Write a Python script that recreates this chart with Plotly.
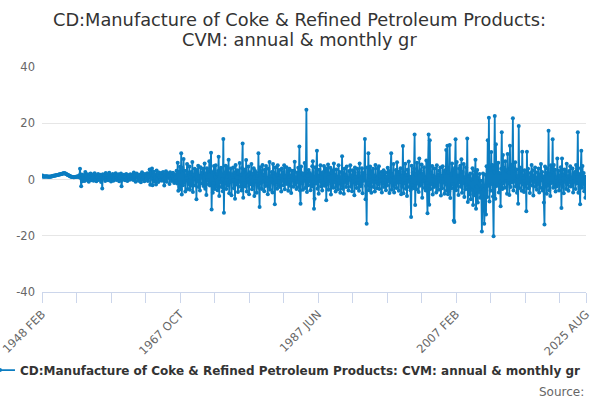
import plotly.graph_objects as go

# monthly growth (%), one row per year, 1948 FEB .. 2025 AUG
rows_early = [
    "1.2 1.4 1.1 1.0 1.1 1.2 1.0 1.1 1.2 1.1 1.0",  # 1948 (from Feb)
    "1.0 1.1 1.0 1.0 1.1 1.1 1.2 1.2 1.3 1.3 1.3 1.4",
    "1.4 1.5 1.5 1.6 1.6 1.7 1.8 1.8 1.9 1.9 2.0 2.0",
    "2.1 2.1 2.2 2.2 2.2 2.1 2.0 1.9 1.8 1.6 1.5 1.4",
    "1.3 1.2 1.1 1.0 1.0 0.9 0.9 0.8 0.8 0.9 0.9 1.0",
    "1.0 1.1 1.0 1.2 0.8 1.5 3.8 0.5 -2.4 1.8 -0.6 1.2",
    "0.2 1.6 -0.5 2.7 0.4 1.3 -0.2 1.9 0.6 -0.8 1.4 0.9",
    "2.1 -0.3 1.2 0.5 1.8 -0.4 0.9 2.2 0.1 1.0 -0.6 1.5",
    "0.8 2.0 -0.2 1.3 0.4 1.7 -0.9 0.6 -3.2 1.9 0.3 1.1",
    "1.6 -0.5 2.3 0.2 1.0 1.8 -0.3 0.7 2.4 0.0 1.2 -0.7",
    "1.4 0.9 2.0 -0.4 1.1 0.3 1.6 2.2 -0.2 0.8 1.5 0.1",
    "1.9 -0.6 0.7 1.3 2.1 -2.4 0.5 1.4 0.0 1.7 0.9 -0.3",
    "1.2 2.0 0.4 -0.5 1.6 0.8 1.1 -0.1 1.9 0.6 1.3 0.2",
    "1.7 -0.2 2.5 0.3 1.0 -0.8 1.4 2.1 0.5 0.9 -0.4 1.6",
    "0.6 1.8 -1.0 1.2 2.6 0.1 0.9 1.5 -0.6 2.0 0.7 1.1",
    "0.4 2.2 -0.5 1.3 0.8 3.6 -1.9 2.4 0.3 3.9 -2.0 1.5",
    "2.8 -0.7 1.9 0.5 -1.8 3.2 0.2 1.6 -0.9 2.5 0.8 -0.3",
    "1.4 2.3 -0.4 1.0 2.7 0.1 -2.1 1.8 0.6 2.9 -0.8 1.2",
    "0.5 2.1 1.3 -1.6 2.6 0.4 1.9 -0.5 1.1 2.4 0.2 -1.2",
    "1.8 0.6 -0.7 3.1 -1.4 6.0 -4.0 2.8 -2.6 4.5 -3.5 9.3",  # 1967
]
rows_late = [
    "-5.3 4.2 -2.0 7.3 -1.0 3.1 -4.3 1.4 0.5 5.5 -3.4 2.5",  # 1968
    "-1.6 4.6 -3.6 0.8 2.7 -2.2 6.2 -4.4 1.7 0.3 3.8 -2.1",
    "2.9 -7.0 3.4 -0.5 4.9 -2.7 1.3 -3.9 4.4 0.7 2.3 -1.4",
    "3.8 -2.3 0.4 5.7 -3.3 2.1 -5.5 4.0 -0.3 2.9 -1.7 6.5",
    "-2.1 3.3 9.5 -10.7 2.6 -4.7 -1.2 4.8 -3.4 0.8 5.1 -2.6",
    "2.0 -3.8 3.0 8.1 -5.9 3.4 -0.9 4.2 -2.7 0.1 -4.2 14.4",
    "-11.8 2.5 -1.3 4.9 -3.4 1.0 4.4 -2.1 7.0 -4.9 2.2 -0.7",
    "3.9 -5.6 1.8 -0.3 4.3 -3.1 2.5 -6.8 5.2 -1.8 0.7 3.3",
    "-4.4 2.2 -0.8 5.9 -2.6 1.6 -3.9 4.0 12.8 -6.5 2.9 -1.2",
    "3.6 -2.5 6.9 -4.3 1.0 0.1 4.6 -5.2 2.6 -1.7 0.8 5.5",
    "-3.5 2.0 -2.2 4.0 -5.9 3.1 -0.5 2.5 -4.7 1.3 -2.0 9.3",
    "-2.9 -9.8 4.4 -1.3 3.0 -3.4 5.2 -0.8 1.7 -4.2 3.5 -2.3",
    "4.8 -1.6 0.5 -5.2 3.8 -2.6 6.2 -3.6 1.2 0.0 2.7 -4.6",
    "5.5 -1.3 2.3 -8.8 4.3 -0.8 1.8 -3.3 5.1 -2.1 0.5 3.4",
    "-2.7 1.4 -4.3 3.9 -0.4 2.6 -2.0 5.1 -3.5 1.0 -0.7 4.4",
    "-1.6 3.0 -4.0 0.9 3.8 -2.2 1.4 -4.8 3.1 -0.3 2.0 -2.6",
    "3.1 6.3 -1.8 0.7 -3.4 2.5 -0.9 4.2 -2.7 11.7 -3.9 -8.6",
    "4.6 -1.2 2.2 -3.6 1.8 -0.4 5.9 -3.0 0.8 24.8 -4.4 1.3",
    "-2.0 3.4 -0.7 2.3 -3.8 1.6 -2.5 4.7 6.5 -1.0 -10.4 -6.8",
    "4.4 -1.4 2.7 10.2 -3.3 1.3 -5.1 3.5 -0.5 5.1 -2.5 2.0",
    "-3.9 2.6 -1.2 4.8 -2.2 0.4 4.0 -7.4 3.0 -1.7 5.3 -3.6",
    "2.1 -0.5 4.2 -5.3 2.5 -2.0 3.3 -2.9 5.7 -0.9 1.6 -4.3",
    "3.6 -2.3 1.0 -3.5 5.1 -1.3 2.7 -4.7 0.7 -2.1 8.3 -3.3",
    "2.3 -5.1 3.8 -0.8 1.7 -2.7 4.6 -1.2 0.3 -3.9 3.0 -0.1",
    "5.1 -2.6 1.3 -4.2 3.3 -0.7 2.2 -5.6 4.3 -1.6 0.9 -3.0",
    "3.8 -1.2 2.6 -4.0 5.7 -2.5 0.5 -1.8 4.0 -4.9 2.3 -0.4",
    "1.8 14.4 -7.0 -2.3 -15.7 4.3 -1.4 9.3 -3.8 1.0 4.6 -2.2",  # 1994
    "-4.7 3.0 -0.8 3.8 -2.7 1.4 -4.3 5.2 -1.0 0.4 -3.1 3.9",
    "-1.7 4.7 -3.4 1.4 -0.3 2.7 -4.6 2.0 -1.3 3.3 -2.7 0.9",
    "2.5 -3.8 1.0 -2.1 4.2 -0.5 3.0 -4.8 1.6 -0.1 9.3 -3.6",
    "1.7 -2.3 5.5 -4.6 0.8 -1.6 3.4 -3.0 6.1 -1.0 2.1 -4.0",
    "2.9 -0.9 4.0 -5.2 1.2 -2.6 11.9 -4.9 2.2 -1.3 5.6 -3.3",
    "1.6 -5.9 3.5 -0.7 6.4 -2.7 1.0 -3.8 -13.3 4.9 -2.0 2.6",
    "-3.1 3.8 16.0 -9.1 1.7 -3.5 6.0 -1.4 2.6 -4.4 7.5 -2.2",
    "3.3 -1.7 5.3 -6.5 2.0 -0.4 4.4 -3.0 0.5 -3.9 6.8 -1.2",
    "-12.0 5.6 16.0 -9.0 14.0 -3.4 2.3 -1.6 4.8 -5.3 1.3 -2.7",
    "3.9 -2.1 0.8 -4.6 5.1 -2.3 1.7 -3.6 3.1 -0.7 4.3 -5.7",
    "1.3 -3.1 4.7 -1.0 2.5 -5.1 3.3 -1.8 10.5 -4.0 12.0 -5.2",
    "2.6 -4.2 12.3 -6.6 1.8 -3.1 5.7 -1.6 3.4 -14.6 -15.1 4.2",
    "14.3 -3.8 6.2 -2.2 1.4 -5.5 3.9 -0.9 4.9 -2.6 7.2 -4.7",
    "2.7 -1.2 5.5 -6.2 0.8 -3.5 4.4 -2.2 14.6 -8.0 -2.7 1.3",
    "-5.2 2.1 -7.0 0.1 -3.6 4.0 -9.1 1.6 -5.6 2.9 7.0 -10.4",
    "-2.6 3.4 -8.2 0.5 -4.4 2.0 -6.5 -0.4 -3.3 -18.5 -6.0 2.1",
    "-3.6 -15.7 -10.8 1.7 -12.4 4.7 -6.2 14.0 -2.2 22.0 -7.8 3.6",
    "-4.0 9.8 -1.6 5.2 -6.0 -20.2 2.6 22.6 -6.8 12.5 -2.3 4.8",
    "-1.8 6.0 -4.6 2.3 -0.8 -9.5 3.8 16.8 -3.4 8.7 -1.3 4.2",
    "-2.9 6.5 -0.5 3.3 -5.1 9.1 -1.4 2.5 -5.5 12.0 -2.7 4.7",
    "-1.0 5.3 21.8 -3.9 3.0 -0.7 6.1 -2.5 3.6 -4.7 1.2 -8.6",
    "19.0 -3.0 4.3 -0.9 2.9 -4.0 9.9 -1.7 0.5 -4.4 3.3 -2.3",
    "2.0 -11.3 9.9 -1.3 3.8 -3.1 0.8 -4.8 2.3 -0.4 5.2 -2.1",
    "3.3 -5.7 1.3 -0.8 4.3 -2.6 0.5 -3.6 2.6 -1.6 3.9 -4.6",
    "1.7 -2.9 5.5 -0.3 2.7 -3.9 1.2 -8.2 -16.0 4.6 -1.8 2.3",
    "-5.1 3.9 -2.2 17.3 -3.8 1.8 -5.9 5.1 -1.2 2.6 14.3 -2.9",
    "5.2 -2.0 3.5 -4.3 0.7 -2.5 7.5 -1.6 3.1 -3.9 1.4 -0.5",
    "4.4 -10.1 7.5 -2.6 1.7 -4.9 3.6 -0.8 2.5 -3.4 5.6 -1.8",
    "1.2 -4.0 3.0 -0.9 4.7 -2.5 0.4 -2.0 3.9 -4.6 2.1 -0.7",
    "2.7 -3.4 5.2 -1.4 0.9 16.8 -4.7 2.0 -2.6 -8.8 4.0 10.2",
    "-2.9 4.8 -1.6 2.3 -4.2 0.9 -6.5 1.0",  # 2025 (to Aug)
]

months = ["JAN", "FEB", "MAR", "APR", "MAY", "JUN",
          "JUL", "AUG", "SEP", "OCT", "NOV", "DEC"]
tick_labels = ["1948 FEB", "1967 OCT", "1987 JUN", "2007 FEB", "2025 AUG"]
y_ticks = [-40, -20, 0, 20, 40]

values = []
for r in rows_early + rows_late:
    values += [float(v) for v in r.split()]

labels = []
for yr in range(1948, 2026):
    for m in range(12):
        labels.append(str(yr) + " " + months[m])
labels = labels[1:1 + len(values)]

minor_vals = labels[::59]

trace = go.Scatter(x=labels, y=values, mode="lines+markers",
                   line={'color': '#0b7dc1', 'width': 1.8},
                   marker={'size': 4, 'color': '#0b7dc1'},
                   name="CD:Manufacture of Coke & Refined Petroleum Products: CVM: annual & monthly gr")

title_font = {'family': 'DejaVu Sans', 'size': 17.8, 'color': '#333333'}

layout = go.Layout(
    width=600, height=400,
    paper_bgcolor='white', plot_bgcolor='white',
    font={'family': 'DejaVu Sans', 'color': '#666666', 'size': 11},
    margin={'l': 42, 'r': 14, 't': 67, 'b': 108, 'autoexpand': False},
    xaxis={'type': 'category', 'range': [0, len(values) - 1], 'automargin': False,
           'tickmode': 'array', 'tickvals': tick_labels, 'ticktext': tick_labels,
           'tickangle': -45, 'ticks': 'outside', 'ticklen': 10, 'tickcolor': '#ccd6eb',
           'tickfont': {'size': 11.5},
           'showline': True, 'linecolor': '#ccd6eb', 'showgrid': False, 'zeroline': False,
           'minor': {'tickmode': 'array', 'tickvals': minor_vals, 'ticks': 'outside',
                     'ticklen': 10, 'tickcolor': '#ccd6eb', 'showgrid': False}},
    yaxis={'range': [-40, 40], 'tickvals': y_ticks, 'ticktext': [str(v) for v in y_ticks],
           'automargin': False, 'tickfont': {'size': 11.5},
           'gridcolor': '#e6e6e6', 'zeroline': False, 'showline': False,
           'ticklabelstandoff': 6},
    showlegend=True,
    legend={'orientation': 'h', 'x': -0.114, 'xanchor': 'left', 'y': -0.347, 'yanchor': 'middle',
            'font': {'size': 12, 'color': '#333333', 'weight': 'bold'}, 'itemwidth': 30},
    annotations=[
        {'text': "CD:Manufacture of Coke & Refined Petroleum Products:",
         'xref': 'paper', 'yref': 'paper', 'x': 0.474, 'xanchor': 'center',
         'y': 1.2133, 'yanchor': 'middle', 'showarrow': False, 'font': title_font},
        {'text': "CVM: annual & monthly gr",
         'xref': 'paper', 'yref': 'paper', 'x': 0.474, 'xanchor': 'center',
         'y': 1.12, 'yanchor': 'middle', 'showarrow': False, 'font': title_font},
        {'text': "Source:", 'xref': 'paper', 'yref': 'paper',
         'x': 1.0, 'xanchor': 'right', 'y': -0.445, 'yanchor': 'middle',
         'showarrow': False, 'font': {'size': 12, 'color': '#666666'}},
    ],
)

fig = go.Figure(data=[trace], layout=layout)
fig.write_html("out.html", config={'displayModeBar': False},
               post_script="document.body.style.margin='0';")
